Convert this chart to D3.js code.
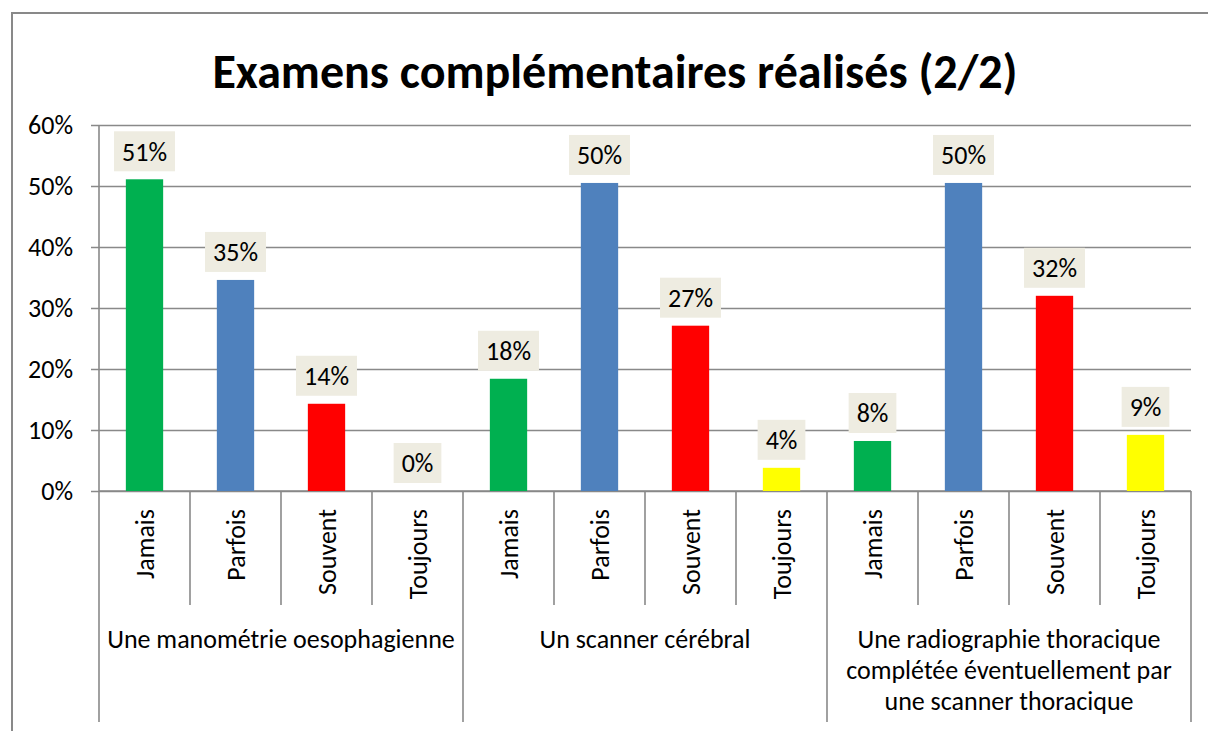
<!DOCTYPE html>
<html lang="fr">
<head>
    <meta charset="UTF-8">
    <script src="https://d3js.org/d3.v7.min.js"></script>
    <title>Examens complémentaires réalisés (2/2)</title>
    <style>
        body { margin: 0; background: #fff; }
        text { font-family: Carlito, Calibri, Lato, sans-serif; fill: #000; }
    </style>
</head>
<body>
    <script>
        // Data
        const groups = [
            ["Une manométrie oesophagienne"],
            ["Un scanner cérébral"],
            ["Une radiographie thoracique", "complétée éventuellement par", "une scanner thoracique"]
        ];
        const answers = ["Jamais", "Parfois", "Souvent", "Toujours"];
        const values = [
            [0.511, 0.346, 0.143, 0.0],
            [0.184, 0.505, 0.271, 0.038],
            [0.082, 0.505, 0.320, 0.092]
        ];
        const labels = [
            ["51%", "35%", "14%", "0%"],
            ["18%", "50%", "27%", "4%"],
            ["8%", "50%", "32%", "9%"]
        ];
        const colors = ["#00b050", "#4f81bd", "#ff0000", "#ffff00"];
        const yTicks = [0, 0.1, 0.2, 0.3, 0.4, 0.5, 0.6];

        const W = 1208, H = 731;
        const mLeft = 99, mRight = 1191, mTop = 125, mBottom = 491;
        const gray = "#898989";
        const fs = 26;

        const svg = d3.select("body").append("svg")
            .attr("width", W)
            .attr("height", H);

        // outer frame of the chart (right and bottom edges are off the picture)
        svg.append("rect")
            .attr("x", 12).attr("y", 13)
            .attr("width", W + 20).attr("height", H + 20)
            .attr("fill", "none")
            .attr("stroke", gray)
            .attr("stroke-width", 2);

        svg.append("text")
            .attr("x", 615).attr("y", 88)
            .attr("text-anchor", "middle")
            .attr("font-size", 48)
            .attr("font-weight", "bold")
            .text("Examens complémentaires réalisés (2/2)");

        // flat list of bars
        const rows = [];
        values.forEach((vs, g) => vs.forEach((v, i) => {
            rows.push({ key: g + "|" + i, g, i, v, label: labels[g][i], answer: answers[i] });
        }));

        const x = d3.scaleBand()
            .domain(rows.map(d => d.key))
            .range([mLeft, mRight])
            .paddingInner(0.59)
            .paddingOuter(0.295);
        const slot = d3.scaleBand().domain(rows.map(d => d.key)).range([mLeft, mRight]);
        const y = d3.scaleLinear().domain([0, 0.6]).range([mBottom, mTop]);

        // y axis with gridlines
        const yAxis = svg.append("g")
            .attr("transform", `translate(${mLeft},0)`)
            .call(d3.axisLeft(y).tickValues(yTicks).tickFormat(d3.format(".0%"))
                .tickSize(-(mRight - mLeft)).tickPadding(26));
        yAxis.select(".domain").remove();
        yAxis.selectAll(".tick line")
            .attr("x1", -8)
            .attr("stroke", gray)
            .attr("stroke-width", 1.6);
        yAxis.selectAll(".tick text")
            .attr("font-size", fs)
            .attr("font-family", "Carlito, Calibri, Lato, sans-serif")
            .attr("fill", "#000");

        svg.append("line")
            .attr("x1", mLeft).attr("x2", mLeft)
            .attr("y1", mTop).attr("y2", mBottom)
            .attr("stroke", gray).attr("stroke-width", 1.6);
        svg.append("line")
            .attr("x1", mLeft).attr("x2", mRight)
            .attr("y1", mBottom).attr("y2", mBottom)
            .attr("stroke", gray).attr("stroke-width", 1.6);

        // bars
        svg.selectAll("rect.bar")
            .data(rows)
            .enter().append("rect")
            .attr("class", "bar")
            .attr("x", d => x(d.key))
            .attr("width", x.bandwidth())
            .attr("y", d => y(d.v))
            .attr("height", d => y(0) - y(d.v))
            .attr("fill", d => colors[d.i]);

        // value labels on beige boxes
        const lab = svg.selectAll("g.lab")
            .data(rows)
            .enter().append("g")
            .attr("class", "lab")
            .attr("transform", d => `translate(${x(d.key) + x.bandwidth() / 2},${y(d.v) - 28})`);
        lab.append("rect").attr("fill", "#eeece1");
        lab.append("text")
            .attr("text-anchor", "middle")
            .attr("dy", "0.36em")
            .attr("font-size", fs)
            .text(d => d.label);
        lab.each(function () {
            const t = d3.select(this).select("text").node().getComputedTextLength();
            d3.select(this).select("rect")
                .attr("x", -t / 2 - 8).attr("width", t + 16)
                .attr("y", -20).attr("height", 40);
        });

        // category ticks: short between answers, long between groups
        const bounds = rows.map(d => slot(d.key)).concat([mRight]);
        svg.selectAll("line.cat")
            .data(bounds)
            .enter().append("line")
            .attr("x1", d => d).attr("x2", d => d)
            .attr("y1", mBottom)
            .attr("y2", (d, k) => k % 4 === 0 ? 722 : 605)
            .attr("stroke", gray)
            .attr("stroke-width", 1.6);

        // rotated answer labels
        svg.selectAll("text.ans")
            .data(rows)
            .enter().append("text")
            .attr("class", "ans")
            .attr("transform", d => `translate(${slot(d.key) + slot.bandwidth() / 2},509) rotate(-90)`)
            .attr("text-anchor", "end")
            .attr("dy", "0.35em")
            .attr("font-size", fs)
            .text(d => d.answer);

        // group labels
        const gw = (mRight - mLeft) / groups.length;
        const gl = svg.selectAll("text.grp")
            .data(groups)
            .enter().append("text")
            .attr("class", "grp")
            .attr("text-anchor", "middle")
            .attr("font-size", fs);
        gl.selectAll("tspan")
            .data((d, g) => d.map(s => ({ s, g })))
            .enter().append("tspan")
            .attr("x", d => mLeft + gw * (d.g + 0.5))
            .attr("y", (d, k) => 648 + k * 31)
            .text(d => d.s);
    </script>
</body>
</html>
